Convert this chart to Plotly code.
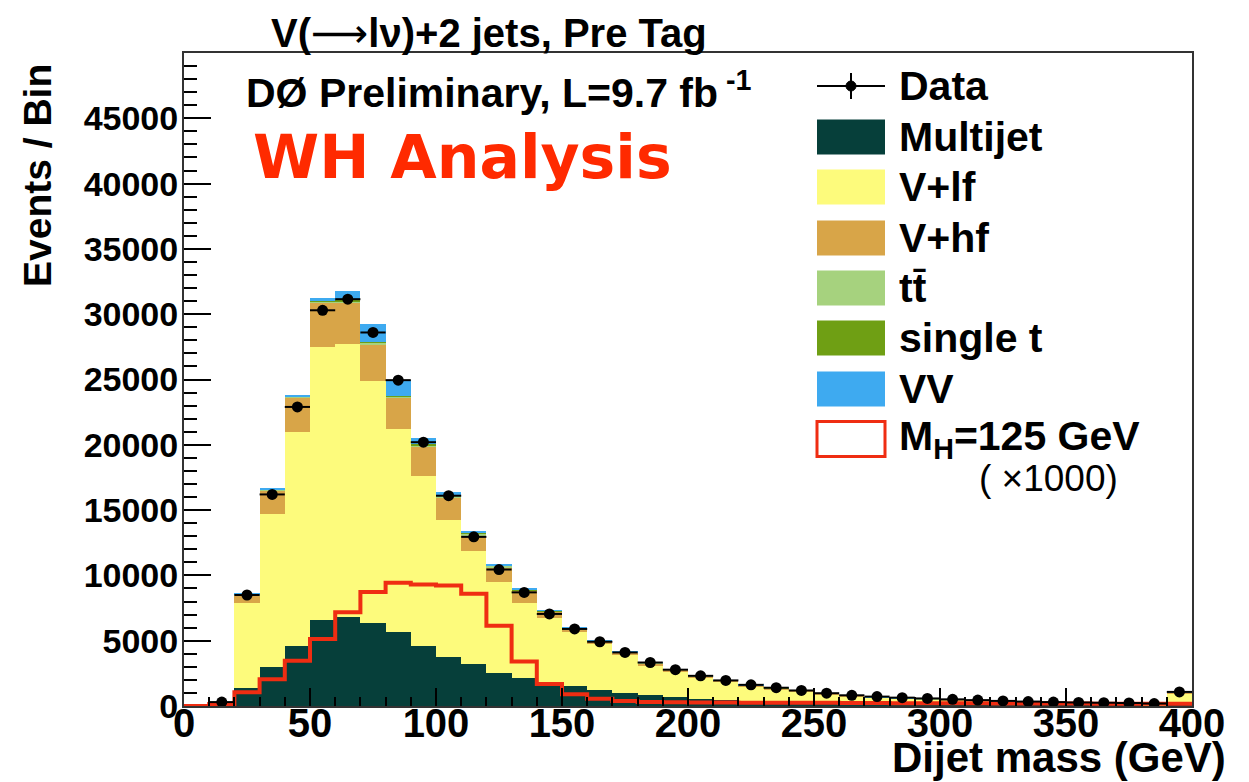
import numpy as np
import plotly.graph_objects as go

# ---------------- data ----------------
bin_lo = list(range(0, 400, 10))          # lower bin edges, GeV (10 GeV bins)
bin_width = 10

data = [0, 300, 8500, 16200, 22900, 30300, 31150, 28600, 24950, 20200,
        16100, 12950, 10450, 8700, 7050, 5900, 4920, 4100, 3330, 2780,
        2310, 1960, 1620, 1400, 1190, 980, 820, 720, 640, 580,
        510, 450, 390, 340, 300, 270, 250, 230, 190, 1080]

multijet = [0, 60, 1400, 2950, 4560, 6600, 6800, 6360, 5640, 4620,
            3720, 3200, 2560, 2180, 1700, 1500, 1250, 1000, 820, 680,
            560, 460, 380, 320, 270, 230, 190, 160, 135, 115,
            100, 85, 75, 65, 55, 50, 45, 40, 35, 150]

v_lf = [0, 190, 6470, 11750, 16440, 20900, 20900, 18510, 15560, 12980,
        10560, 8650, 6930, 5690, 5050, 4140, 3470, 2900, 2310, 1970,
        1620, 1390, 1120, 970, 820, 650, 550, 460, 425, 385,
        340, 305, 265, 230, 205, 185, 170, 155, 130, 780]

v_hf = [0, 20, 600, 1800, 2600, 3400, 3200, 2830, 2390, 2270,
        1720, 1230, 1150, 950, 450, 250, 200, 170, 150, 120,
        100, 90, 80, 70, 60, 55, 50, 45, 40, 35,
        30, 28, 25, 22, 20, 18, 16, 14, 12, 110]

ttbar = [0, 0, 30, 40, 60, 80, 100, 110, 110, 110,
         100, 90, 80, 60, 50, 45, 40, 35, 30, 25,
         20, 18, 16, 14, 12, 10, 9, 8, 7, 6,
         5, 5, 4, 4, 3, 3, 3, 2, 2, 10]

single_t = [0, 0, 20, 30, 40, 50, 60, 70, 70, 60,
            50, 45, 40, 30, 25, 20, 18, 15, 12, 10,
            9, 8, 7, 6, 5, 5, 4, 4, 3, 3,
            3, 2, 2, 2, 2, 1, 1, 1, 1, 5]

vv = [0, 0, 60, 120, 150, 200, 740, 1350, 1230, 460,
      250, 185, 140, 60, 50, 45, 40, 35, 30, 25,
      20, 18, 16, 14, 12, 10, 9, 8, 7, 6,
      5, 5, 4, 4, 3, 3, 3, 2, 2, 20]

signal_x1000 = [0, 150, 1050, 2050, 3460, 5130, 7180, 8720, 9440, 9300,
                9230, 8590, 6150, 3400, 1680, 900, 560, 380, 300, 280,
                270, 260, 250, 250, 240, 240, 230, 230, 220, 220,
                210, 210, 200, 200, 190, 190, 180, 180, 170, 170]

x_ticks = [0, 50, 100, 150, 200, 250, 300, 350, 400]
y_ticks = [0, 5000, 10000, 15000, 20000, 25000, 30000, 35000, 40000, 45000]

# ---------------- styling ----------------
FONT = "Liberation Sans, Arial, Helvetica, sans-serif"
C_MJ = "#063f3a"
C_LF = "#fdfb7c"
C_HF = "#d8a548"
C_TT = "#a6d27e"
C_ST = "#6f9f14"
C_VV = "#3eaaf0"
C_SIG = "#ef2d12"

centers = [b + bin_width / 2 for b in bin_lo]
edges = bin_lo + [bin_lo[-1] + bin_width]

fig = go.Figure()

stack = [("Multijet", multijet, C_MJ), ("V+lf", v_lf, C_LF), ("V+hf", v_hf, C_HF),
         ("tt̄", ttbar, C_TT), ("single t", single_t, C_ST), ("VV", vv, C_VV)]
for name, vals, col in stack:
    fig.add_trace(go.Bar(x=centers, y=vals, width=bin_width, name=name,
                         marker=dict(color=col, line=dict(width=0)),
                         showlegend=False))

# signal (x1000) as a step histogram
fig.add_trace(go.Scatter(x=edges, y=signal_x1000 + [signal_x1000[-1]],
                         mode="lines", line=dict(color=C_SIG, width=4, shape="hv"),
                         showlegend=False))

# data points
dx = [c for c, d in zip(centers, data) if d > 0]
dy = [d for d in data if d > 0]
fig.add_trace(go.Scatter(x=dx, y=dy, mode="markers",
                         marker=dict(color="black", size=11),
                         error_x=dict(type="constant", value=bin_width / 2, thickness=2,
                                      width=0, color="black"),
                         error_y=dict(type="data", array=list(np.sqrt(dy)), thickness=2,
                                      width=0, color="black"),
                         showlegend=False))

# ---------------- layout ----------------
L, R, T, B = 184, 1192, 53, 706
W, H = 1249, 782


def px(x):
    return (x - L) / (R - L)


def py(y):
    return (B - y) / (B - T)


fig.update_layout(
    width=W, height=H,
    margin=dict(l=L, r=W - R, t=T, b=H - B, pad=0),
    paper_bgcolor="white", plot_bgcolor="white",
    barmode="stack", bargap=0,
    font=dict(family=FONT, color="black"),
    showlegend=False,
)

fig.update_xaxes(range=[0, 400], tickvals=x_ticks, ticktext=[str(v) for v in x_ticks],
                 ticks="inside", ticklen=18, tickwidth=2, tickcolor="black",
                 minor=dict(ticks="inside", ticklen=9, tickwidth=1.5, dtick=10,
                            tick0=0, tickcolor="black"),
                 showline=True, linecolor="#333333", linewidth=2, mirror=True,
                 showgrid=False, zeroline=False, ticklabelstandoff=-19,
                 tickfont=dict(size=40, family=FONT, weight="bold"))
fig.update_yaxes(range=[0, 50000], tickvals=y_ticks, ticktext=[str(v) for v in y_ticks],
                 ticks="inside", ticklen=27, tickwidth=2, tickcolor="black",
                 minor=dict(ticks="inside", ticklen=13, tickwidth=1.5, dtick=1000,
                            tick0=0, tickcolor="black"),
                 showline=True, linecolor="#333333", linewidth=2, mirror=True,
                 showgrid=False, zeroline=False, ticklabelstandoff=-3,
                 tickfont=dict(size=34, family=FONT, weight="bold"))

ann = []
ann.append(dict(text="V(<span style=\"font-family:DejaVu Sans;font-weight:normal\">⟶</span>lν)+2 jets, Pre Tag",
                x=px(489), y=py(33), xanchor="center",
                yanchor="middle", font=dict(size=40, family=FONT, weight="bold")))
ann.append(dict(text="DØ Preliminary, L=9.7 fb<sup> -1</sup>", x=px(244), y=py(90),
                xanchor="left", yanchor="middle",
                font=dict(size=41, family=FONT, weight="bold")))
ann.append(dict(text="WH Analysis", x=px(251), y=py(157), xanchor="left",
                yanchor="middle", font=dict(size=60, family="DejaVu Sans", weight="bold",
                                            color="#ff2a00")))
ann.append(dict(text="Events / Bin", x=px(37), y=py(176), xanchor="center",
                yanchor="middle", textangle=-90,
                font=dict(size=39, family=FONT, weight="bold")))
ann.append(dict(text="Dijet mass (GeV)", x=px(1228), y=py(757), xanchor="right",
                yanchor="middle", font=dict(size=42, family=FONT, weight="bold")))

# ---------------- legend (drawn manually) ----------------
shapes = []
bx0, bx1, bh = 817, 885, 35
rows = [("Data", 86, None), ("Multijet", 137, C_MJ), ("V+lf", 187, C_LF),
        ("V+hf", 238, C_HF), ("tt̄", 288, C_TT), ("single t", 338, C_ST),
        ("VV", 389, C_VV), ("M<sub>H</sub>=125 GeV", 439, "sig")]
for label, yc, col in rows:
    if col is None:
        shapes.append(dict(type="line", xref="paper", yref="paper", x0=px(bx0), x1=px(bx1),
                           y0=py(yc), y1=py(yc), line=dict(color="black", width=2)))
        shapes.append(dict(type="line", xref="paper", yref="paper", x0=px(851), x1=px(851),
                           y0=py(yc - 13), y1=py(yc + 13), line=dict(color="black", width=2)))
        shapes.append(dict(type="circle", xref="paper", yref="paper", x0=px(846), x1=px(856),
                           y0=py(yc - 5), y1=py(yc + 5), fillcolor="black",
                           line=dict(color="black", width=1)))
    elif col == "sig":
        shapes.append(dict(type="rect", xref="paper", yref="paper", x0=px(bx0), x1=px(bx1),
                           y0=py(yc - bh / 2), y1=py(yc + bh / 2), fillcolor="white",
                           line=dict(color=C_SIG, width=3)))
    else:
        shapes.append(dict(type="rect", xref="paper", yref="paper", x0=px(bx0), x1=px(bx1),
                           y0=py(yc - bh / 2), y1=py(yc + bh / 2), fillcolor=col,
                           line=dict(width=0)))
    ann.append(dict(text=label, x=px(897), y=py(yc), xanchor="left", yanchor="middle",
                    font=dict(size=41, family=FONT, weight="bold")))
ann.append(dict(text="( ×1000)", x=px(1048), y=py(479), xanchor="center", yanchor="middle",
                font=dict(size=37, family=FONT)))

for a in ann:
    a.update(xref="paper", yref="paper", showarrow=False)

fig.update_layout(annotations=ann, shapes=shapes)

fig.write_html("out.html")
